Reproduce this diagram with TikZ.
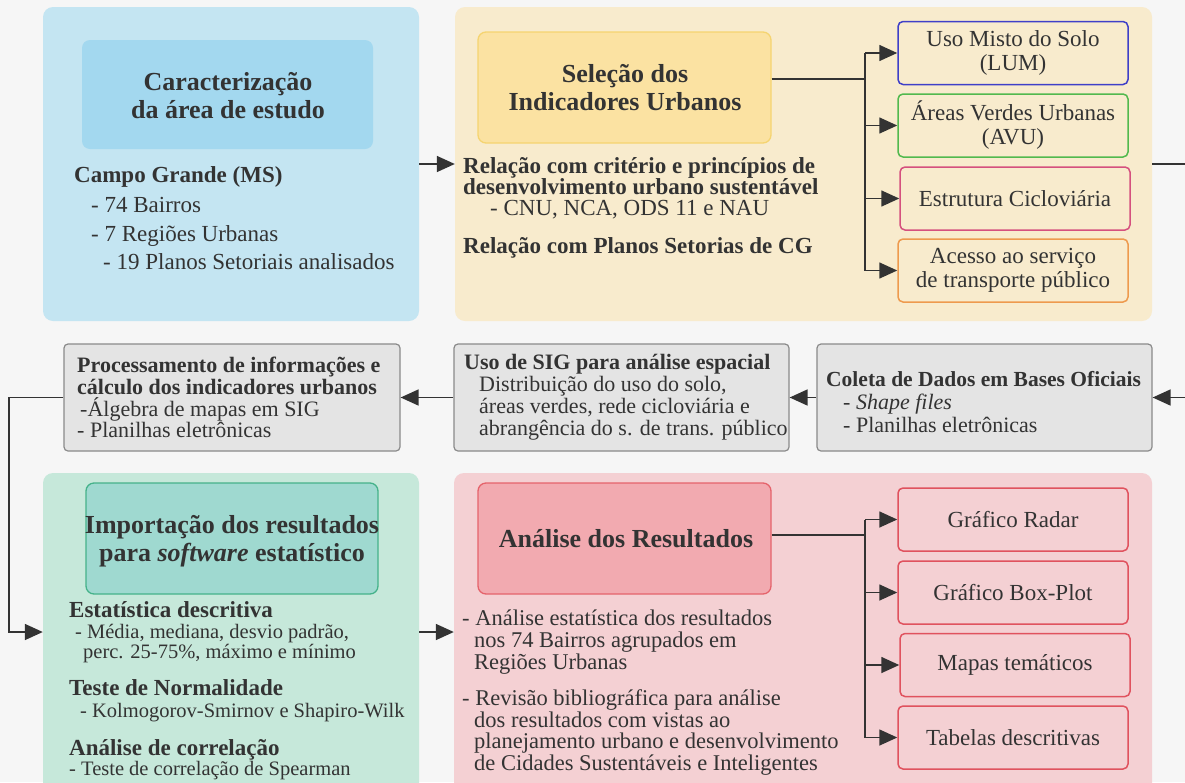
\documentclass[tikz,border=0pt]{standalone}
\usepackage{fontspec}
\setmainfont{Liberation Serif}
\usetikzlibrary{arrows.meta}
\definecolor{bgc}{HTML}{F6F6F6}
\definecolor{txt}{HTML}{333333}
\definecolor{linec}{HTML}{333333}
\definecolor{bluep}{HTML}{C4E5F2}
\definecolor{bluei}{HTML}{A3D8EF}
\definecolor{yelp}{HTML}{F8EBCD}
\definecolor{yeli}{HTML}{FBE2A2}
\definecolor{yelb}{HTML}{F5D470}
\definecolor{grnp}{HTML}{C6E8DA}
\definecolor{grni}{HTML}{9FD9D0}
\definecolor{grnb}{HTML}{45B28A}
\definecolor{pnkp}{HTML}{F4D0D3}
\definecolor{pnki}{HTML}{F2AAB0}
\definecolor{pnkb}{HTML}{E5636B}
\definecolor{grayf}{HTML}{E4E4E4}
\definecolor{grayb}{HTML}{8A8A8A}
\definecolor{cblue}{HTML}{3F3FC8}
\definecolor{cgreen}{HTML}{52B94E}
\definecolor{cpink}{HTML}{D5507E}
\definecolor{corange}{HTML}{EE9A4E}
\definecolor{cred}{HTML}{E0525E}
\tikzset{
  panel/.style={rounded corners=10pt, inner sep=0pt, draw=none},
  ibox/.style={rounded corners=8pt, inner sep=0pt, line width=1.3pt},
  sbox/.style={rounded corners=5pt, inner sep=0pt, line width=1.5pt, minimum width=230pt, minimum height=63pt, align=center, text=txt, font=\fontsize{23}{24}\selectfont},
  gbox/.style={rounded corners=4pt, inner sep=0pt, line width=1.2pt, draw=grayb, fill=grayf, minimum width=335pt, minimum height=107pt},
  title/.style={font=\fontsize{26}{28}\selectfont\bfseries, text=txt, anchor=base, inner sep=0pt},
  bt/.style={font=\fontsize{23}{25}\selectfont\bfseries, text=txt, anchor=base west, inner sep=0pt},
  rt/.style={font=\fontsize{23}{25}\selectfont, text=txt, anchor=base west, inner sep=0pt},
  prt/.style={font=\fontsize{22.5}{24}\selectfont, text=txt, anchor=base west, inner sep=0pt},
  mbt/.style={font=\fontsize{22}{24}\selectfont\bfseries, text=txt, anchor=base west, inner sep=0pt},
  mrt/.style={font=\fontsize{22}{24}\selectfont, text=txt, anchor=base west, inner sep=0pt},
  srt/.style={font=\fontsize{20.5}{22}\selectfont, text=txt, anchor=base west, inner sep=0pt},
  conn/.style={draw=linec, line width=1.6pt},
  arr/.style={draw=linec, line width=1.6pt, -{Triangle[length=18pt,width=16pt]}},
}
\begin{document}
\begin{tikzpicture}[x=1pt,y=-1pt]
\useasboundingbox (0,0) rectangle (1185,782);
\clip (0,0) rectangle (1185,782);
\fill[bgc] (0,0) rectangle (1185,782);

% panels
\node[panel, fill=bluep, minimum width=376pt, minimum height=314pt] (p1) at (231,164) {};
\node[panel, fill=yelp, minimum width=697pt, minimum height=314pt] (p2) at (803.5,164) {};
\node[panel, fill=grnp, minimum width=376pt, minimum height=347pt] (p3) at (231,646.5) {};
\node[panel, fill=pnkp, minimum width=698pt, minimum height=347pt] (p4) at (803,646.5) {};

% inner title boxes
\node[ibox, fill=bluei, minimum width=291pt, minimum height=109pt] (car) at (227.5,94.5) {};
\node[ibox, fill=yeli, draw=yelb, minimum width=293pt, minimum height=111pt] (sel) at (624.5,87.5) {};
\node[ibox, fill=grni, draw=grnb, minimum width=292pt, minimum height=111pt] (imp) at (232,538.5) {};
\node[ibox, fill=pnki, draw=pnkb, minimum width=293pt, minimum height=111pt] (ana) at (624.5,538.5) {};

% panel 1 text
\node[title] (t1a) at (228,90) {Caracterização};
\node[title] (t1b) at (228,118) {da área de estudo};
\node[bt] (t1c) at (74,182) {Campo Grande (MS)};
\node[rt] (t1d) at (91,212) {- 74 Bairros};
\node[rt] (t1e) at (91,241) {- 7 Regiões Urbanas};
\node[rt] (t1f) at (103,269) {- 19 Planos Setoriais analisados};

% panel 2 text
\node[title] (t2a) at (625,82) {Seleção dos};
\node[title] (t2b) at (625,110) {Indicadores Urbanos};
\node[bt] (t2c) at (463,173) {Relação com critério e princípios de};
\node[bt] (t2d) at (463,194) {desenvolvimento urbano sustentável};
\node[rt] (t2e) at (490,215) {- CNU, NCA, ODS 11 e NAU};
\node[bt] (t2f) at (463,253) {Relação com Planos Setorias de CG};

% indicator boxes
\node[sbox, draw=cblue] (b1) at (1013,53) {Uso Misto do Solo\\(LUM)};
\node[sbox, draw=cgreen] (b2) at (1013,125.5) {Áreas Verdes Urbanas\\(AVU)};
\node[sbox, draw=cpink] (b3) at (1015,198.5) {Estrutura Cicloviária};
\node[sbox, draw=corange] (b4) at (1013,270.5) {Acesso ao serviço\\de transporte público};

% middle row boxes
\node[gbox, minimum width=336pt] (proc) at (232,397.5) {};
\node[gbox] (sig) at (621.5,397.5) {};
\node[gbox] (col) at (984.5,397.5) {};

\node[mbt] (m1a) at (77,372) {Processamento de informações e};
\node[mbt] (m1b) at (77,394) {cálculo dos indicadores urbanos};
\node[mrt] (m1c) at (80,416) {-Álgebra de mapas em SIG};
\node[mrt] (m1d) at (77,437) {- Planilhas eletrônicas};

\node[mbt] (m2a) at (464,369) {Uso de SIG para análise espacial};
\node[mrt] (m2b) at (479,391) {Distribuição do uso do solo,};
\node[mrt] (m2c) at (479,413) {áreas verdes, rede cicloviária e};
\node[mrt] (m2d) at (479,435) {abrangência do s. de trans. público};

\node[mbt, font=\fontsize{21.5}{23}\selectfont\bfseries] (m3a) at (826,386) {Coleta de Dados em Bases Oficiais};
\node[mrt] (m3b) at (843,409) {- \textit{Shape files}};
\node[mrt] (m3c) at (843,432) {- Planilhas eletrônicas};

% green panel text
\node[title] (t3a) at (232,533) {Importação dos resultados};
\node[title] (t3b) at (232,561) {para \textit{software} estatístico};
\node[bt] (t3c) at (69,617) {Estatística descritiva};
\node[srt] (t3d) at (75,638) {- Média, mediana, desvio padrão,};
\node[srt] (t3e) at (83,658) {perc. 25-75\%, máximo e mínimo};
\node[bt] (t3f) at (69,695) {Teste de Normalidade};
\node[srt] (t3g) at (80,717) {- Kolmogorov-Smirnov e Shapiro-Wilk};
\node[bt] (t3h) at (69,755) {Análise de correlação};
\node[srt] (t3i) at (69,775) {- Teste de correlação de Spearman};

% pink panel text
\node[title] (t4a) at (626,547) {Análise dos Resultados};
\node[prt] (t4b) at (462,625) {- Análise estatística dos resultados};
\node[prt] (t4c) at (474,647) {nos 74 Bairros agrupados em};
\node[prt] (t4d) at (474,669) {Regiões Urbanas};
\node[prt] (t4e) at (462,705) {- Revisão bibliográfica para análise};
\node[prt] (t4f) at (474,727) {dos resultados com vistas ao};
\node[prt] (t4g) at (474,748) {planejamento urbano e desenvolvimento};
\node[prt] (t4h) at (474,770) {de Cidades Sustentáveis e Inteligentes};

% result boxes
\node[sbox, draw=cred] (r1) at (1013,519.5) {Gráfico Radar};
\node[sbox, draw=cred] (r2) at (1013,592.5) {Gráfico Box-Plot};
\node[sbox, draw=cred] (r3) at (1015,665) {Mapas temáticos};
\node[sbox, draw=cred] (r4) at (1013,737.5) {Tabelas descritivas};

% connectors
\draw[arr] (p1.east) -- (p2.west);
\coordinate (br1) at (865,79);
\draw[conn] (br1 -| sel.east) -- (br1);
\draw[conn] (br1 |- b1.west) -- (br1 |- b4.west);
\foreach \b in {b1,b2,b3,b4} \draw[arr] (br1 |- \b.west) -- (\b.west);

\coordinate (exR) at (1185,164);
\draw[conn] (p2.east) -- (exR);
\coordinate (inR) at (1185,397.5);
\draw[arr] (inR) -- (col.east);
\draw[arr] (col.west) -- (sig.east);
\draw[arr] (sig.west) -- (proc.east);

\coordinate (lc) at (9,632);
\draw[arr] (proc.west) -| (lc) -- (lc -| p3.west);
\draw[arr] (lc -| p3.east) -- (lc -| p4.west);

\coordinate (br2) at (865,535);
\draw[conn] (br2 -| ana.east) -- (br2);
\draw[conn] (br2 |- r1.west) -- (br2 |- r4.west);
\foreach \b in {r1,r2,r3,r4} \draw[arr] (br2 |- \b.west) -- (\b.west);
\end{tikzpicture}
\end{document}
